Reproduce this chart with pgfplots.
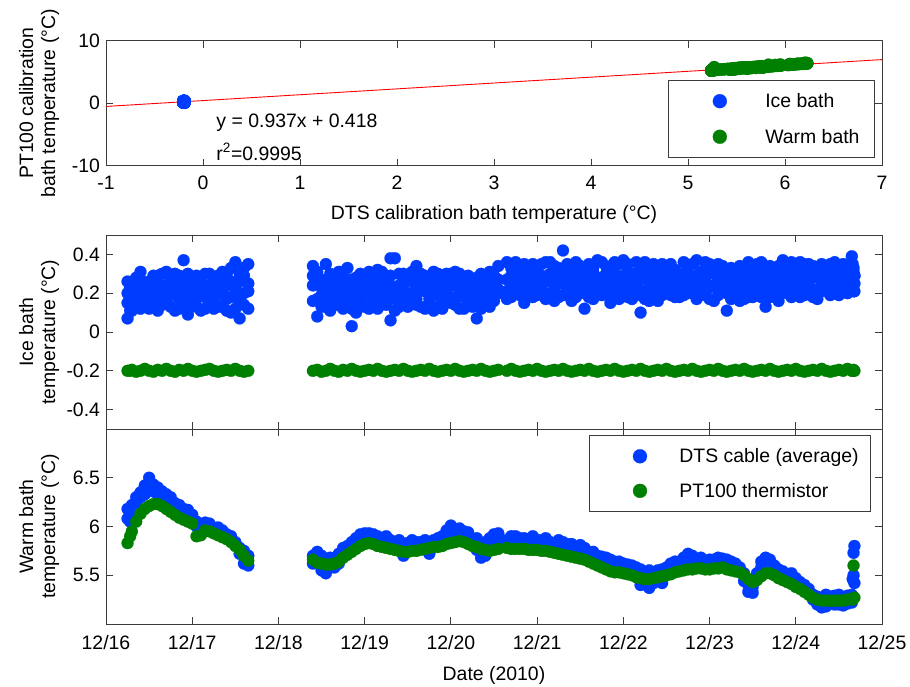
\documentclass[border=0pt]{standalone}
\usepackage{fontspec}
\setmainfont{Liberation Sans}
\usepackage{pgfplots}
\usepackage{pgfplotstable}
\pgfplotsset{compat=1.18}
\definecolor{mblue}{RGB}{0,60,255}
\definecolor{mgreen}{RGB}{0,128,0}
\definecolor{axgray}{RGB}{60,60,60}

% t = day of December 2010; id1..id4 = DTS ice bath samples; ip = PT100 ice bath;
% wd, wd2 = DTS warm bath samples; wp = PT100 warm bath
\pgfplotstableread{
t id1 id2 id3 id4 ip wd wd2 wp
16.25 0.07 0.20 0.15 0.26 -0.200 6.08 6.18 5.83
16.28 0.11 0.23 0.19 0.16 -0.200 6.14 6.05 5.90
16.30 0.14 0.25 0.21 0.11 -0.195 6.22 6.12 5.95
16.35 0.22 0.17 0.28 0.19 -0.205 6.30 6.24 6.05
16.40 0.12 0.27 0.18 0.31 -0.200 6.35 6.30 6.13
16.45 0.19 0.24 0.25 0.14 -0.190 6.42 6.33 6.18
16.50 0.26 0.15 0.12 0.22 -0.200 6.50 6.38 6.21
16.55 0.17 0.29 0.21 0.27 -0.205 6.43 6.36 6.23
16.60 0.23 0.11 0.29 0.16 -0.195 6.40 6.33 6.23
16.65 0.30 0.19 0.14 0.24 -0.200 6.36 6.30 6.21
16.70 0.15 0.24 0.31 0.20 -0.190 6.33 6.26 6.18
16.75 0.27 0.13 0.19 0.26 -0.200 6.30 6.24 6.15
16.80 0.20 0.30 0.25 0.11 -0.205 6.24 6.20 6.12
16.85 0.12 0.22 0.29 0.17 -0.195 6.22 6.16 6.09
16.90 0.37 0.18 0.14 0.27 -0.200 6.18 6.13 6.07
16.95 0.09 0.25 0.22 0.30 -0.190 6.17 6.10 6.05
17.00 0.21 0.14 0.28 0.19 -0.200 6.12 6.08 6.03
17.05 0.29 0.17 0.13 0.25 -0.205 6.05 6.00 5.90
17.10 0.11 0.24 0.26 0.21 -0.200 6.02 5.97 5.91
17.15 0.23 0.30 0.18 0.12 -0.195 6.02 6.04 5.96
17.20 0.16 0.20 0.30 0.24 -0.190 6.00 6.03 5.95
17.25 0.28 0.12 0.21 0.17 -0.200 5.98 5.96 5.93
17.30 0.19 0.25 0.13 0.29 -0.205 5.99 5.95 5.91
17.35 0.13 0.31 0.25 0.20 -0.200 5.93 5.96 5.89
17.40 0.24 0.17 0.30 0.11 -0.195 5.92 5.90 5.87
17.45 0.33 0.10 0.18 0.26 -0.200 5.87 5.90 5.84
17.50 0.36 0.20 0.12 0.23 -0.190 5.84 5.82 5.80
17.55 0.07 0.26 0.30 0.16 -0.200 5.78 5.72 5.76
17.60 0.14 0.29 0.20 0.33 -0.205 5.62 5.75 5.70
17.65 0.35 0.21 0.25 0.12 -0.200 5.70 5.60 5.65
18.40 0.34 0.16 0.24 0.29 -0.200 5.70 5.62 5.66
18.45 0.08 0.25 0.17 0.31 -0.195 5.74 5.66 5.63
18.50 0.27 0.19 0.13 0.23 -0.205 5.55 5.70 5.62
18.55 0.35 0.13 0.26 0.19 -0.200 5.52 5.66 5.61
18.60 0.22 0.30 0.16 0.11 -0.190 5.68 5.58 5.61
18.65 0.14 0.26 0.29 0.21 -0.200 5.58 5.68 5.62
18.70 0.31 0.18 0.23 0.14 -0.205 5.72 5.62 5.64
18.75 0.20 0.12 0.31 0.26 -0.195 5.78 5.70 5.68
18.80 0.25 0.33 0.16 0.20 -0.200 5.80 5.74 5.71
18.85 0.03 0.21 0.27 0.12 -0.190 5.84 5.78 5.74
18.90 0.17 0.28 0.10 0.24 -0.200 5.88 5.82 5.77
18.95 0.30 0.14 0.22 0.27 -0.205 5.92 5.86 5.80
19.00 0.23 0.19 0.29 0.13 -0.200 5.93 5.88 5.82
19.05 0.12 0.27 0.19 0.31 -0.195 5.90 5.93 5.83
19.10 0.28 0.21 0.15 0.25 -0.200 5.92 5.86 5.82
19.15 0.18 0.32 0.24 0.12 -0.190 5.86 5.90 5.80
19.20 0.26 0.15 0.31 0.21 -0.200 5.85 5.82 5.79
19.25 0.21 0.29 0.14 0.17 -0.205 5.90 5.83 5.78
19.30 0.06 0.38 0.24 0.29 -0.200 5.83 5.86 5.77
19.35 0.38 0.17 0.21 0.11 -0.195 5.84 5.80 5.76
19.40 0.24 0.13 0.30 0.19 -0.200 5.80 5.86 5.75
19.45 0.15 0.30 0.22 0.26 -0.190 5.70 5.80 5.74
19.50 0.29 0.20 0.13 0.16 -0.200 5.83 5.78 5.74
19.55 0.19 0.26 0.28 0.31 -0.205 5.82 5.86 5.75
19.60 0.34 0.14 0.17 0.23 -0.200 5.79 5.84 5.75
19.65 0.22 0.28 0.30 0.13 -0.195 5.84 5.80 5.76
19.70 0.12 0.24 0.21 0.29 -0.200 5.80 5.86 5.77
19.75 0.27 0.17 0.14 0.22 -0.190 5.72 5.84 5.78
19.80 0.20 0.31 0.26 0.11 -0.200 5.86 5.82 5.79
19.85 0.13 0.23 0.30 0.19 -0.205 5.88 5.84 5.79
19.90 0.29 0.18 0.12 0.24 -0.200 5.90 5.86 5.80
19.95 0.16 0.25 0.22 0.30 -0.195 5.96 5.90 5.82
20.00 0.24 0.30 0.15 0.18 -0.200 5.98 6.01 5.83
20.05 0.31 0.14 0.24 0.27 -0.190 5.97 5.92 5.84
20.10 0.19 0.22 0.30 0.12 -0.200 5.93 5.98 5.85
20.15 0.12 0.27 0.18 0.22 -0.205 5.95 5.90 5.84
20.20 0.25 0.18 0.29 0.15 -0.200 5.88 5.94 5.82
20.25 0.21 0.13 0.16 0.26 -0.195 5.86 5.82 5.80
20.30 0.07 0.28 0.24 0.20 -0.200 5.76 5.88 5.79
20.35 0.23 0.17 0.30 0.12 -0.190 5.68 5.82 5.77
20.40 0.16 0.26 0.20 0.25 -0.200 5.84 5.70 5.76
20.45 0.27 0.20 0.13 0.31 -0.205 5.80 5.88 5.75
20.50 0.19 0.29 0.25 0.16 -0.200 5.92 5.82 5.76
20.55 0.34 0.22 0.20 0.27 -0.195 5.93 5.85 5.77
20.65 0.36 0.21 0.27 0.17 -0.200 5.86 5.80 5.78
20.70 0.18 0.29 0.33 0.24 -0.190 5.90 5.84 5.77
20.75 0.30 0.25 0.20 0.36 -0.200 5.84 5.90 5.77
20.80 0.22 0.34 0.29 0.19 -0.205 5.88 5.82 5.77
20.85 0.27 0.15 0.35 0.24 -0.200 5.82 5.88 5.77
20.90 0.33 0.20 0.23 0.29 -0.195 5.87 5.80 5.76
20.95 0.24 0.31 0.18 0.35 -0.200 5.85 5.90 5.76
21.00 0.19 0.27 0.31 0.22 -0.190 5.82 5.86 5.76
21.05 0.35 0.22 0.24 0.29 -0.200 5.86 5.80 5.75
21.10 0.26 0.17 0.36 0.19 -0.205 5.84 5.88 5.75
21.15 0.30 0.36 0.20 0.26 -0.200 5.80 5.84 5.74
21.20 0.21 0.28 0.34 0.16 -0.195 5.83 5.78 5.73
21.25 0.33 0.18 0.25 0.31 -0.200 5.86 5.80 5.72
21.30 0.42 0.25 0.19 0.28 -0.190 5.78 5.84 5.71
21.35 0.23 0.31 0.35 0.21 -0.200 5.82 5.76 5.70
21.40 0.28 0.16 0.22 0.33 -0.205 5.76 5.82 5.69
21.45 0.36 0.24 0.29 0.18 -0.200 5.79 5.74 5.68
21.50 0.20 0.29 0.34 0.25 -0.195 5.81 5.76 5.67
21.55 0.12 0.33 0.23 0.30 -0.200 5.72 5.78 5.66
21.60 0.27 0.22 0.18 0.35 -0.190 5.74 5.70 5.64
21.65 0.31 0.17 0.33 0.24 -0.200 5.70 5.74 5.62
21.70 0.24 0.37 0.28 0.20 -0.205 5.66 5.70 5.60
21.75 0.19 0.28 0.36 0.26 -0.200 5.69 5.64 5.58
21.80 0.34 0.23 0.21 0.30 -0.195 5.63 5.68 5.56
21.85 0.26 0.15 0.31 0.19 -0.200 5.66 5.60 5.54
21.90 0.30 0.21 0.25 0.36 -0.190 5.60 5.64 5.53
21.95 0.22 0.35 0.17 0.28 -0.200 5.64 5.58 5.53
22.00 0.37 0.27 0.29 0.21 -0.205 5.58 5.62 5.52
22.05 0.25 0.18 0.35 0.31 -0.200 5.61 5.56 5.51
22.10 0.17 0.30 0.23 0.26 -0.195 5.55 5.60 5.50
22.15 0.29 0.24 0.19 0.36 -0.200 5.58 5.52 5.48
22.20 0.10 0.33 0.27 0.21 -0.190 5.40 5.56 5.47
22.25 0.32 0.21 0.36 0.17 -0.200 5.52 5.44 5.46
22.30 0.23 0.28 0.16 0.31 -0.205 5.37 5.55 5.46
22.35 0.20 0.35 0.28 0.25 -0.200 5.50 5.42 5.47
22.40 0.34 0.16 0.24 0.30 -0.195 5.55 5.50 5.48
22.45 0.27 0.25 0.35 0.19 -0.200 5.42 5.56 5.49
22.50 0.22 0.31 0.29 0.27 -0.190 5.58 5.52 5.50
22.55 0.35 0.19 0.20 0.33 -0.200 5.62 5.58 5.51
22.60 0.18 0.27 0.32 0.24 -0.205 5.60 5.64 5.53
22.65 0.30 0.23 0.23 0.18 -0.200 5.64 5.60 5.54
22.70 0.25 0.36 0.19 0.29 -0.195 5.68 5.62 5.55
22.75 0.33 0.20 0.27 0.34 -0.200 5.72 5.66 5.56
22.80 0.21 0.28 0.35 0.23 -0.190 5.63 5.70 5.56
22.85 0.37 0.17 0.22 0.29 -0.200 5.66 5.62 5.57
22.90 0.26 0.31 0.31 0.20 -0.205 5.62 5.68 5.57
22.95 0.19 0.24 0.36 0.28 -0.200 5.65 5.62 5.56
23.00 0.31 0.35 0.23 0.17 -0.195 5.60 5.66 5.56
23.05 0.24 0.16 0.30 0.33 -0.200 5.66 5.62 5.57
23.10 0.35 0.27 0.19 0.24 -0.190 5.64 5.68 5.57
23.15 0.28 0.22 0.34 0.29 -0.200 5.67 5.62 5.58
23.20 0.11 0.30 0.26 0.20 -0.205 5.62 5.66 5.56
23.25 0.33 0.25 0.17 0.31 -0.200 5.64 5.60 5.55
23.30 0.22 0.19 0.30 0.26 -0.195 5.60 5.62 5.54
23.35 0.29 0.34 0.21 0.16 -0.200 5.58 5.54 5.53
23.40 0.17 0.26 0.33 0.29 -0.190 5.52 5.44 5.50
23.45 0.36 0.23 0.27 0.18 -0.200 5.33 5.40 5.46
23.50 0.25 0.30 0.18 0.34 -0.205 5.38 5.32 5.43
23.55 0.20 0.35 0.29 0.24 -0.200 5.48 5.52 5.45
23.60 0.30 0.18 0.36 0.27 -0.195 5.58 5.64 5.49
23.65 0.13 0.27 0.23 0.32 -0.200 5.68 5.60 5.52
23.70 0.34 0.22 0.18 0.28 -0.190 5.62 5.66 5.52
23.75 0.26 0.31 0.30 0.20 -0.200 5.60 5.56 5.50
23.80 0.22 0.16 0.34 0.27 -0.205 5.56 5.52 5.47
23.85 0.37 0.25 0.21 0.30 -0.200 5.54 5.50 5.45
23.90 0.28 0.20 0.32 0.24 -0.195 5.50 5.46 5.43
23.95 0.18 0.33 0.26 0.36 -0.200 5.52 5.45 5.41
24.00 0.31 0.24 0.20 0.27 -0.190 5.47 5.42 5.38
24.05 0.24 0.36 0.29 0.18 -0.200 5.43 5.38 5.36
24.10 0.35 0.19 0.23 0.31 -0.205 5.40 5.36 5.33
24.15 0.27 0.29 0.35 0.24 -0.200 5.36 5.32 5.30
24.20 0.21 0.34 0.28 0.18 -0.195 5.30 5.25 5.27
24.25 0.33 0.17 0.22 0.29 -0.200 5.20 5.28 5.25
24.30 0.26 0.30 0.35 0.21 -0.190 5.17 5.22 5.24
24.35 0.30 0.23 0.25 0.33 -0.200 5.30 5.18 5.24
24.40 0.19 0.35 0.29 0.24 -0.205 5.22 5.28 5.24
24.45 0.36 0.27 0.21 0.31 -0.200 5.29 5.20 5.24
24.50 0.24 0.31 0.33 0.19 -0.195 5.20 5.30 5.24
24.55 0.29 0.21 0.26 0.35 -0.200 5.27 5.19 5.24
24.60 0.33 0.26 0.20 0.29 -0.190 5.21 5.29 5.25
24.65 0.39 0.22 0.31 0.26 -0.200 5.30 5.22 5.26
24.66 0.28 0.24 0.35 0.27 -0.200 5.46 5.26 5.25
24.67 0.31 0.21 0.24 0.33 -0.195 5.73 5.50 5.60
24.68 0.25 0.29 0.29 0.21 -0.200 5.80 5.42 5.27
}\datatab

\newcommand{\fs}{\fontsize{19.5}{22}\selectfont}

\pgfplotsset{
  myaxis/.style={
    scale only axis, width=776bp, anchor=south west,
    axis line style={draw=axgray, line width=0.9bp},
    tick style={draw=axgray, line width=0.9bp},
    major tick length=7bp,
    tick align=inside,
    font=\fs,
    tick label style={font=\fs, text=black},
    yticklabel style={xshift=-2.5bp},
    every axis y label/.style={at={(axis description cs:-0.0863,0.5)}, rotate=90, anchor=center, align=center, font=\fs},
    every axis x label/.style={at={(axis description cs:0.5,0)}, anchor=center, font=\fs},
    minor tick num=0,
    clip=true,
  },
  dot/.style={only marks, mark=*, mark size=6bp, color=#1, mark options={draw=#1, fill=#1, line width=0.2bp}},
}

\begin{document}
\begin{tikzpicture}
\path[use as bounding box] (0,0) rectangle (910bp,687bp);

% ---------------- top panel ----------------
\begin{axis}[myaxis, at={(106bp,521.3bp)}, height=125bp,
  xmin=-1, xmax=7, ymin=-10, ymax=10,
  xtick={-1,0,1,2,3,4,5,6,7}, xticklabels={-1,0,1,2,3,4,5,6,7},
  ytick={-10,0,10}, yticklabels={-10,0,10},
  xticklabel style={yshift=-7bp},
  xlabel={DTS calibration bath temperature (°C)},
  xlabel style={yshift=-49bp},
  ylabel={PT100 calibration\\bath temperature (°C)},
  legend style={at={(axis description cs:0.991,0.686)}, anchor=north east,
    inner xsep=0pt, inner ysep=13bp, row sep=20bp, draw=axgray, line width=0.9bp,
    font=\fs, nodes={inner sep=0pt}},
  legend cell align=left,
  legend image code/.code={\path (-51bp,0bp) (45bp,0bp); \draw[#1, mark size=7bp] plot coordinates {(0bp,0bp)};},
]
\addplot[dot=mblue] table[x=ip, y=id1] {\datatab};
\addlegendentry{Ice bath}
\addplot[dot=mblue, forget plot] table[x=ip, y=id2] {\datatab};
\addplot[dot=mblue, forget plot] table[x=ip, y=id3] {\datatab};
\addplot[dot=mblue, forget plot] table[x=ip, y=id4] {\datatab};
\addplot[dot=mgreen] table[x=wp, y=wd] {\datatab};
\addlegendentry{Warm bath\hspace*{15bp}}
\addplot[dot=mgreen, forget plot] table[x=wp, y=wd2] {\datatab};
\addplot[red, line width=0.9bp, forget plot] coordinates {(-1,-0.519) (7,6.977)};
\node[anchor=west, inner sep=0pt, font=\fs] at (axis cs:0.137,-3.12) {y = 0.937x + 0.418};
\node[anchor=west, inner sep=0pt, font=\fs] at (axis cs:0.137,-7.8) {r\textsuperscript{2}=0.9995};
\end{axis}

% ---------------- middle panel ----------------
\begin{axis}[myaxis, at={(106bp,258bp)}, height=194bp,
  xmin=16, xmax=25, ymin=-0.5, ymax=0.5,
  xtick={16,17,18,19,20,21,22,23,24,25}, xticklabels={},
  ytick={-0.4,-0.2,0,0.2,0.4}, yticklabels={-0.4,-0.2,0,0.2,0.4},
  ylabel={Ice bath\\temperature (°C)},
]
\addplot[dot=mblue] table[x=t, y=id1] {\datatab};
\addplot[dot=mblue] table[x=t, y=id2] {\datatab};
\addplot[dot=mblue] table[x=t, y=id3] {\datatab};
\addplot[dot=mblue] table[x=t, y=id4] {\datatab};
\addplot[dot=mgreen] table[x=t, y=ip] {\datatab};
\end{axis}

% ---------------- bottom panel ----------------
\begin{axis}[myaxis, at={(106bp,63bp)}, height=195bp,
  xmin=16, xmax=25, ymin=5, ymax=7,
  xtick={16,17,18,19,20,21,22,23,24,25},
  xticklabels={12/16,12/17,12/18,12/19,12/20,12/21,12/22,12/23,12/24,12/25},
  xticklabel style={yshift=-8bp},
  ytick={5.5,6,6.5}, yticklabels={5.5,6,6.5},
  xlabel={Date (2010)},
  xlabel style={yshift=-51bp},
  ylabel={Warm bath\\temperature (°C)},
  legend style={at={(axis description cs:0.986,0.969)}, anchor=north east,
    inner xsep=0pt, inner ysep=13bp, row sep=19bp, draw=axgray, line width=0.9bp,
    font=\fs, nodes={inner sep=0pt}},
  legend cell align=left,
  legend image code/.code={\path (-50bp,0bp) (39bp,0bp); \draw[#1, mark size=7bp] plot coordinates {(0bp,0bp)};},
]
\addplot[dot=mblue] table[x=t, y=wd] {\datatab};
\addlegendentry{DTS cable (average)\hspace*{12bp}}
\addplot[dot=mblue, forget plot] table[x=t, y=wd2] {\datatab};
\addplot[dot=mgreen] table[x=t, y=wp] {\datatab};
\addlegendentry{PT100 thermistor}
\end{axis}
\end{tikzpicture}
\end{document}
